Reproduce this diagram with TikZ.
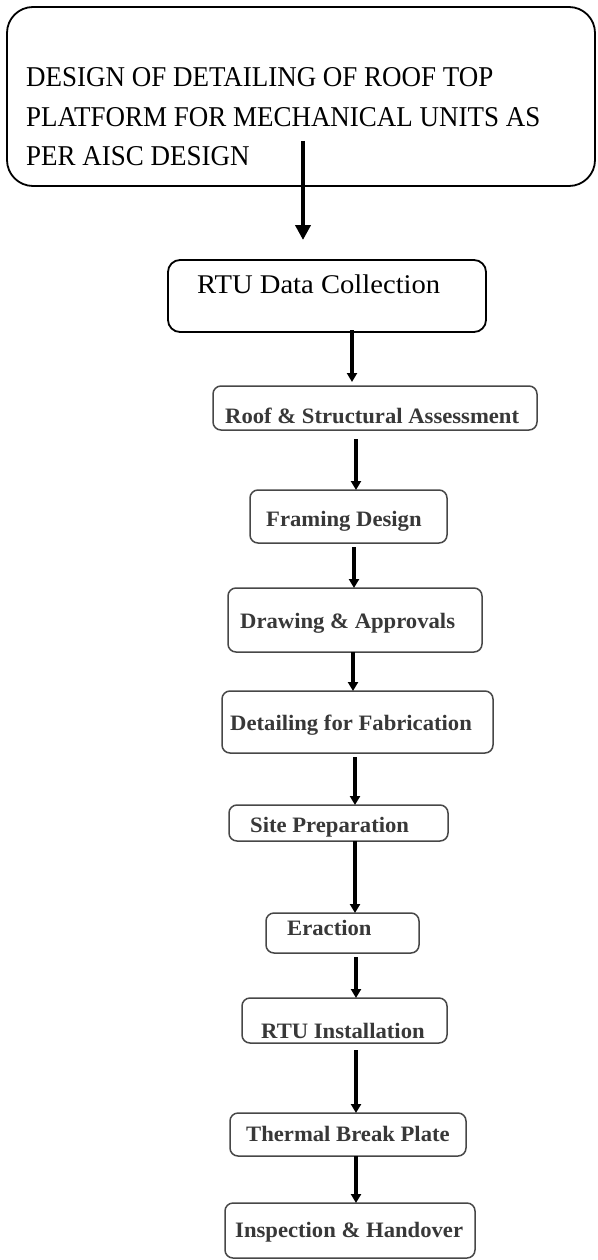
\documentclass[tikz,border=0pt]{standalone}
\usepackage{fontspec}
\usetikzlibrary{arrows.meta}
\newfontfamily\topfont[FakeStretch=0.94]{Liberation Serif}
\newfontfamily\rtufont[FakeStretch=1.06]{Liberation Serif}
\newfontfamily\boxfont[FakeStretch=1.03]{Liberation Serif}
\definecolor{boxgray}{gray}{0.28}
\definecolor{txtgray}{gray}{0.22}
\tikzset{
  bigbox/.style={draw=black, line width=1.8pt, rounded corners=26pt, inner sep=0pt, outer sep=0pt},
  midbox/.style={draw=black, line width=1.8pt, rounded corners=12pt, inner sep=0pt, outer sep=0pt},
  stepbox/.style={draw=boxgray, line width=1.5pt, rounded corners=8pt, inner sep=0pt, outer sep=0pt},
  toptxt/.style={anchor=base west, inner sep=0pt, font=\topfont\fontsize{28.7}{39.5}\selectfont},
  rtutxt/.style={anchor=base west, inner sep=0pt, font=\rtufont\fontsize{27}{32}\selectfont},
  steptxt/.style={anchor=base west, inner sep=0pt, text=txtgray, font=\boxfont\bfseries\fontsize{22}{26}\selectfont},
  bigarr/.style={line width=4.5pt, -{Triangle[width=15pt,length=15pt]}},
  arr/.style={line width=3.2pt, -{Triangle[width=10pt,length=9pt]}},
}
\begin{document}
\begin{tikzpicture}
\useasboundingbox (0,0) rectangle (597pt,-1260pt);
% boxes
\node[bigbox, minimum width=588pt, minimum height=179pt] (top) at (301pt,-96.5pt) {};
\node[midbox, minimum width=318pt, minimum height=72pt] (rtu) at (327pt,-296pt) {};
\node[stepbox, minimum width=324pt, minimum height=44pt] (b2) at (375pt,-408pt) {};
\node[stepbox, minimum width=197pt, minimum height=53pt] (b3) at (348.5pt,-516.5pt) {};
\node[stepbox, minimum width=254pt, minimum height=64pt] (b4) at (355pt,-620pt) {};
\node[stepbox, minimum width=271pt, minimum height=62pt] (b5) at (357.5pt,-722pt) {};
\node[stepbox, minimum width=219pt, minimum height=36pt] (b6) at (338.5pt,-823pt) {};
\node[stepbox, minimum width=153pt, minimum height=40pt] (b7) at (342.5pt,-933pt) {};
\node[stepbox, minimum width=205pt, minimum height=45pt] (b8) at (344.5pt,-1020.5pt) {};
\node[stepbox, minimum width=236pt, minimum height=43pt] (b9) at (348pt,-1134.5pt) {};
\node[stepbox, minimum width=250pt, minimum height=55pt] (b10) at (350pt,-1230.5pt) {};
% texts
\node[toptxt] (t0a) at (26pt,-87pt) {DESIGN OF DETAILING OF ROOF TOP};
\node[toptxt] (t0b) at (26pt,-127pt) {PLATFORM FOR MECHANICAL UNITS AS};
\node[toptxt] (t0c) at (26pt,-166pt) {PER AISC DESIGN};
\node[rtutxt] (t1) at (197pt,-293pt) {RTU Data Collection};
\node[steptxt] (t2) at (225pt,-423pt) {Roof \& Structural Assessment};
\node[steptxt] (t3) at (266pt,-526pt) {Framing Design};
\node[steptxt] (t4) at (240pt,-628pt) {Drawing \& Approvals};
\node[steptxt] (t5) at (230pt,-730pt) {Detailing for Fabrication};
\node[steptxt] (t6) at (250pt,-832pt) {Site Preparation};
\node[steptxt] (t7) at (287pt,-935pt) {Eraction};
\node[steptxt] (t8) at (261pt,-1038pt) {RTU Installation};
\node[steptxt] (t9) at (246pt,-1141pt) {Thermal Break Plate};
\node[steptxt] (t10) at (235pt,-1237pt) {Inspection \& Handover};
% arrow columns
\coordinate (a0) at (303pt,0);
\coordinate (a1) at (352pt,0);
\coordinate (a2) at (356pt,0);
\coordinate (a3) at (354pt,0);
\coordinate (a4) at (353pt,0);
\coordinate (a5) at (355pt,0);
\coordinate (a6) at (355pt,0);
\coordinate (a7) at (356pt,0);
\coordinate (a8) at (356pt,0);
\coordinate (a9) at (356pt,0);
% arrows
\draw[bigarr, shorten <=-45pt, shorten >=20pt] (top.south -| a0) -- (rtu.north -| a0);
\draw[arr, shorten <=-2pt, shorten >=4pt] (rtu.south -| a1) -- (b2.north -| a1);
\draw[arr, shorten <=9pt] (b2.south -| a2) -- (b3.north -| a2);
\draw[arr, shorten <=4pt] (b3.south -| a3) -- (b4.north -| a3);
\draw[arr] (b4.south -| a4) -- (b5.north -| a4);
\draw[arr, shorten <=4pt] (b5.south -| a5) -- (b6.north -| a5);
\draw[arr] (b6.south -| a6) -- (b7.north -| a6);
\draw[arr, shorten <=4pt] (b7.south -| a7) -- (b8.north -| a7);
\draw[arr, shorten <=7pt] (b8.south -| a8) -- (b9.north -| a8);
\draw[arr] (b9.south -| a9) -- (b10.north -| a9);
\end{tikzpicture}
\end{document}
